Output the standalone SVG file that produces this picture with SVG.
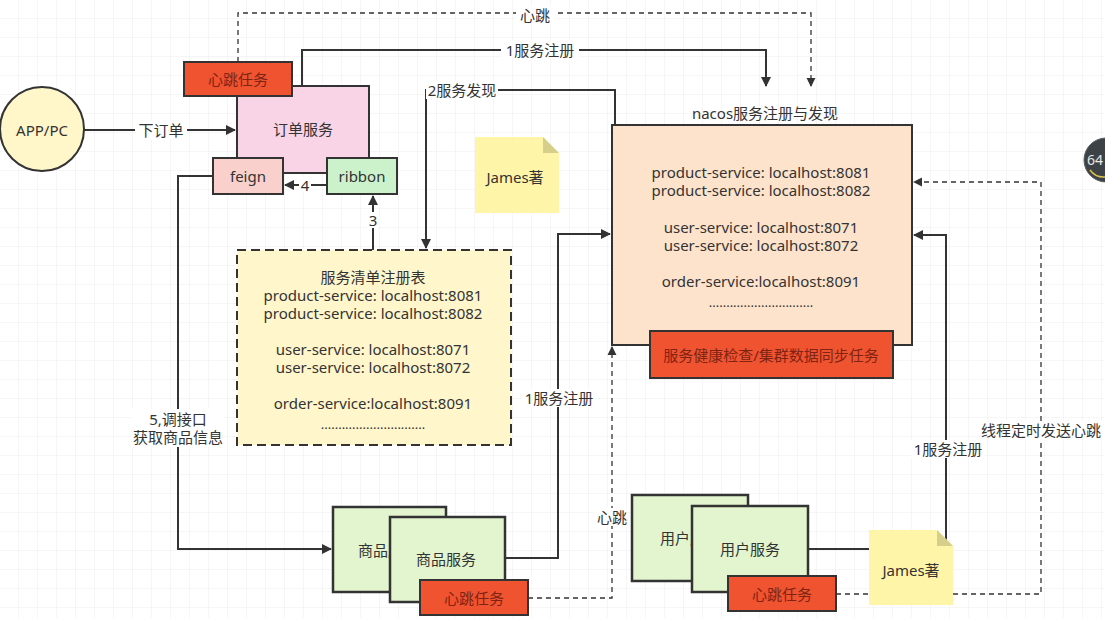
<svg xmlns="http://www.w3.org/2000/svg" width="1105" height="618" viewBox="0 0 1105 618">
<defs>
<pattern id="grid" width="19" height="19" patternUnits="userSpaceOnUse">
<path d="M19 0 V19 M0 19 H19" fill="none" stroke="#ececec" stroke-width="1"/>
</pattern>
<marker id="arr" viewBox="0 0 10 10" refX="9" refY="5" markerWidth="5" markerHeight="5" orient="auto" markerUnits="strokeWidth">
<path d="M0 0 L10 5 L0 10 Z" fill="#333"/>
</marker>
<marker id="arrd" viewBox="0 0 10 10" refX="9" refY="5" markerWidth="7" markerHeight="7" orient="auto" markerUnits="strokeWidth">
<path d="M0 0 L10 5 L0 10 Z" fill="#333"/>
</marker>
</defs>
<style>
text{font-family:"Noto Sans","Noto Sans CJK SC",sans-serif;font-size:15px;fill:#333;text-anchor:middle;dominant-baseline:central}
.box{stroke:#333;stroke-width:2}
.red{fill:#f0532f;stroke:#333;stroke-width:2}
.redt{fill:#7f2414}
.line{fill:none;stroke:#333;stroke-width:2}
.dash{fill:none;stroke:#333;stroke-width:1.3;stroke-dasharray:5,4}
.lbl{fill:#fff}
.green{fill:#e3f5cf;stroke:#333;stroke-width:2.5}
.note{fill:#fff5a8}
.fold{fill:#d6cf8a}
</style>
<rect width="1105" height="618" fill="#fff"/>
<rect width="1105" height="618" fill="url(#grid)"/>

<g id="connectors">
<path class="line" d="M84 130 H235" marker-end="url(#arr)"/>
<rect class="lbl" x="135" y="121" width="52" height="18"/>
<text x="161" y="130">下订单</text>
<path class="dash" d="M238 62 V13 H811 V86" marker-end="url(#arrd)"/>
<rect class="lbl" x="516" y="6" width="38" height="18"/>
<text x="535" y="15">心跳</text>
<path class="line" d="M302 86 V50 H766 V86" marker-end="url(#arr)"/>
<rect class="lbl" x="501" y="41" width="78" height="18"/>
<text x="540" y="50">1服务注册</text>
<path class="line" d="M615 125 V90 H426 V248" marker-end="url(#arr)"/>
<rect class="lbl" x="426" y="81" width="72" height="18"/>
<text x="462" y="90">2服务发现</text>
<path class="line" d="M373 250 V196" marker-end="url(#arr)"/>
<rect class="lbl" x="367" y="212" width="12" height="16"/>
<text x="373" y="220">3</text>
<path class="line" d="M327 185 H285" marker-end="url(#arr)"/>
<rect class="lbl" x="299" y="177" width="12" height="16"/>
<text x="305" y="185">4</text>
<path class="line" d="M213 176 H178 V549 H331" marker-end="url(#arr)"/>
<rect class="lbl" x="132" y="409" width="92" height="38"/>
<text x="178" y="419">5,调接口</text>
<text x="178" y="437">获取商品信息</text>
<path class="line" d="M505 558 H558 V234 H610" marker-end="url(#arr)"/>
<rect class="lbl" x="522" y="389" width="74" height="18"/>
<text x="559" y="398">1服务注册</text>
<path class="dash" d="M528 598 H612 V347" marker-end="url(#arrd)"/>
<rect class="lbl" x="595" y="508" width="34" height="18"/>
<text x="612" y="517">心跳</text>
<path class="line" d="M808 549 H946 V235 H914" marker-end="url(#arr)"/>
<rect class="lbl" x="911" y="440" width="74" height="18"/>
<text x="948" y="449">1服务注册</text>
<path class="dash" d="M836 594 H1041 V182 H914" marker-end="url(#arrd)"/>
<rect class="lbl" x="980" y="421" width="124" height="18"/>
<text x="1041" y="430">线程定时发送心跳</text>
</g>

<g id="app">
<circle cx="42" cy="129" r="42" fill="#fff6c9" stroke="#333" stroke-width="2"/>
<text x="42" y="130">APP/PC</text>
</g>

<g id="order-service">
<rect class="box" x="237" y="86" width="132" height="87" fill="#f9d4e6"/>
<text x="303" y="129">订单服务</text>
</g>
<g id="order-heartbeat">
<rect class="red" x="184" y="62" width="108" height="34"/>
<text class="redt" x="238" y="79">心跳任务</text>
</g>
<g id="feign">
<rect class="box" x="213" y="158" width="70" height="36" fill="#f9d0cb"/>
<text x="248" y="176">feign</text>
</g>
<g id="ribbon">
<rect class="box" x="327" y="158" width="70" height="36" fill="#ccf2cc"/>
<text x="362" y="176">ribbon</text>
</g>

<g id="registry">
<rect x="237" y="250" width="274" height="195" fill="#fff6cc" stroke="#333" stroke-width="2" stroke-dasharray="9,5"/>
<text x="373" y="277">服务清单注册表</text>
<text x="373" y="295">product-service: localhost:8081</text>
<text x="373" y="313">product-service: localhost:8082</text>
<text x="373" y="349">user-service: localhost:8071</text>
<text x="373" y="367">user-service: localhost:8072</text>
<text x="373" y="403">order-service:localhost:8091</text>
<text x="373" y="424" style="font-size:13px">..............................</text>
</g>

<g id="note1">
<path class="note" d="M475 137 H543 L559 153 V213 H475 Z"/>
<path class="fold" d="M543 137 L559 153 H543 Z"/>
<text x="515" y="177">James著</text>
</g>

<g id="nacos">
<text x="765" y="113">nacos服务注册与发现</text>
<rect class="box" x="612" y="125" width="300" height="220" fill="#fde3cb"/>
<text x="761" y="172">product-service: localhost:8081</text>
<text x="761" y="190">product-service: localhost:8082</text>
<text x="761" y="227">user-service: localhost:8071</text>
<text x="761" y="245">user-service: localhost:8072</text>
<text x="761" y="281">order-service:localhost:8091</text>
<text x="761" y="302" style="font-size:13px">..............................</text>
</g>
<g id="nacos-task">
<rect class="red" x="650" y="331" width="243" height="47"/>
<text class="redt" x="771" y="355">服务健康检查/集群数据同步任务</text>
</g>

<g id="product-service-back">
<rect class="green" x="333" y="507" width="113" height="85"/>
<text x="388" y="550">商品服务</text>
</g>
<g id="product-service">
<rect class="green" x="390" y="517" width="115" height="85"/>
<text x="446" y="559">商品服务</text>
</g>
<g id="product-heartbeat">
<rect class="red" x="420" y="580" width="108" height="35"/>
<text class="redt" x="474" y="598">心跳任务</text>
</g>

<g id="user-service-back">
<rect class="green" x="632" y="495" width="116" height="86"/>
<text x="690" y="538">用户服务</text>
</g>
<g id="user-service">
<rect class="green" x="692" y="506" width="116" height="86"/>
<text x="750" y="549">用户服务</text>
</g>
<g id="user-heartbeat">
<rect class="red" x="728" y="576" width="108" height="35"/>
<text class="redt" x="782" y="594">心跳任务</text>
</g>

<g id="note2">
<path class="note" d="M869 530 H937 L953 546 V605 H869 Z"/>
<path class="fold" d="M937 530 L953 546 H937 Z"/>
<text x="911" y="570">James著</text>
</g>

<g id="badge">
<circle cx="1106" cy="160" r="22" fill="#3d4247" stroke="#5a5f64" stroke-width="1"/>
<path d="M1090 170 A17 17 0 0 0 1105 177" fill="none" stroke="#d9c24a" stroke-width="1.5"/>
<text x="1095" y="159" style="fill:#e8e8e8;font-size:14px">64</text>
</g>
</svg>
